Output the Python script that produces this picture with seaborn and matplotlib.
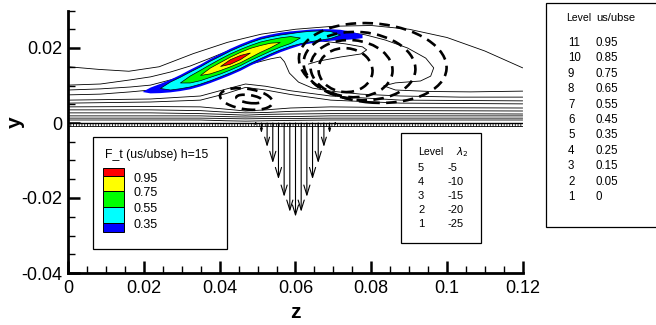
import numpy as np
import matplotlib
matplotlib.use("Agg")
import matplotlib.pyplot as plt
import seaborn as sns
from matplotlib.patches import Ellipse, Rectangle, Polygon
from matplotlib.ticker import MultipleLocator, FuncFormatter

# ---------------- data ----------------
# outer streamline passing over everything
top_z = [0, 0.008, 0.016, 0.024, 0.033, 0.042, 0.051, 0.060, 0.070, 0.080, 0.090, 0.100, 0.110, 0.120]
top_y = [0.0150, 0.0143, 0.0138, 0.0150, 0.0185, 0.0215, 0.0237, 0.0250, 0.0258, 0.0260, 0.0250, 0.0228, 0.0192, 0.0147]

# streamline looping round the big vortex
loop_z = [0, 0.0085, 0.0164, 0.0217, 0.0270, 0.0322, 0.0375, 0.0428, 0.0481, 0.0534, 0.0587, 0.0640,
          0.0693, 0.0732, 0.0785, 0.0838, 0.0896, 0.0944, 0.0965, 0.0957, 0.0930, 0.0864, 0.0833,
          0.0864, 0.0957, 0.1063, 0.12]
loop_y = [0.0101, 0.0104, 0.0115, 0.0123, 0.0136, 0.0152, 0.0173, 0.0195, 0.0213, 0.0229, 0.0240, 0.0245,
          0.0245, 0.0243, 0.0235, 0.0221, 0.0200, 0.0173, 0.0147, 0.0125, 0.0112, 0.0107, 0.0099,
          0.0088, 0.0084, 0.0083, 0.0085]

# streamline spiralling into the vortex core
spiral_z = [0, 0.0085, 0.0164, 0.0217, 0.0270, 0.0322, 0.0375, 0.0428, 0.0481, 0.0534, 0.0587, 0.0666,
            0.0732, 0.0777, 0.0788, 0.0772, 0.0719, 0.0661, 0.0634]
spiral_y = [0.0088, 0.0091, 0.0096, 0.0101, 0.0115, 0.0131, 0.0152, 0.0173, 0.0195, 0.0211, 0.0221, 0.0219,
            0.0211, 0.0203, 0.0195, 0.0184, 0.0176, 0.0165, 0.0157]

# separatrix along the lower side of the band
sep_z = [0, 0.0085, 0.0164, 0.0217, 0.0270, 0.0322, 0.0375, 0.0428, 0.0481, 0.0534, 0.0560, 0.0571,
         0.0584, 0.0608, 0.0645, 0.0693, 0.0772, 0.0878, 0.1036, 0.12]
sep_y = [0.0075, 0.0077, 0.0083, 0.0088, 0.0096, 0.0109, 0.0125, 0.0141, 0.0157, 0.0171, 0.0176, 0.0163,
         0.0133, 0.0109, 0.0093, 0.0085, 0.0077, 0.0072, 0.0069, 0.0069]

# near-wall streamlines
low_z = [0, 0.0217, 0.0349, 0.0415, 0.0468, 0.0521, 0.0587, 0.0693, 0.0878, 0.12]
low_y = [
    [0.0061, 0.0064, 0.0072, 0.0090, 0.0104, 0.0098, 0.0086, 0.0072, 0.0061, 0.0059],
    [0.0053, 0.0056, 0.0061, 0.0078, 0.0095, 0.0088, 0.0076, 0.0061, 0.0053, 0.0051],
    [0.0043, 0.0044, 0.0043, 0.0037, 0.0032, 0.0035, 0.0040, 0.0043, 0.0041, 0.0040],
    [0.0035, 0.0035, 0.0033, 0.0029, 0.0027, 0.0028, 0.0031, 0.0033, 0.0033, 0.0032],
    [0.0027, 0.0027, 0.0025, 0.0023, 0.0021, 0.0023, 0.0024, 0.0025, 0.0025, 0.0024],
    [0.0019, 0.0019, 0.0019, 0.0017, 0.0016, 0.0017, 0.0017, 0.0019, 0.0019, 0.0019],
    [0.0013, 0.0013, 0.0013, 0.0012, 0.0011, 0.0012, 0.0012, 0.0013, 0.0013, 0.0013],
    [0.0008, 0.0008, 0.0008, 0.0006, 0.0005, 0.0006, 0.0007, 0.0008, 0.0008, 0.0008],
]

# F_t (us/ubse) band: centre line and half thickness of each level
band_z = [0.0196, 0.0217, 0.0243, 0.0270, 0.0296, 0.0322, 0.0349, 0.0375, 0.0402, 0.0428, 0.0455, 0.0481,
          0.0507, 0.0534, 0.0560, 0.0587, 0.0613, 0.0640, 0.0666, 0.0693, 0.0719, 0.0745, 0.0777]
band_yc = [0.00827, 0.00867, 0.00920, 0.00987, 0.01067, 0.01160, 0.01267, 0.01387, 0.01507, 0.01627,
           0.01747, 0.01867, 0.01973, 0.02067, 0.02147, 0.02213, 0.02267, 0.02307, 0.02333, 0.02347,
           0.02347, 0.02333, 0.02307]
hw_blue = [0, 0.00077, 0.00123, 0.00169, 0.00215, 0.00261, 0.00291, 0.00322, 0.00337, 0.00353, 0.00353,
           0.00337, 0.00322, 0.00291, 0.00261, 0.0023, 0.00199, 0.00184, 0.00169, 0.00153, 0.00138,
           0.00107, 0.00046]
hw_cyan = [0, 0.00107, 0.00153, 0.00199, 0.0023, 0.00261, 0.00276, 0.00291, 0.00291, 0.00276, 0.00261,
           0.0023, 0.00199, 0.00169, 0.00153, 0.00138, 0.00123, 0.00092, 0]
hw_green = [0, 0.00092, 0.00138, 0.00169, 0.00199, 0.00215, 0.00215, 0.00199, 0.00184, 0.00153, 0.00123,
            0.00092, 0]
hw_yellow = [0, 0.00077, 0.00107, 0.00129, 0.00138, 0.00123, 0.00092, 0.00061, 0]
hw_red = [0, 0.00061, 0.00055, 0]
band_start = [0, 2, 4, 6, 8]
ft_colors = ["#0000ff", "#00ffff", "#00ff00", "#ffff00", "#ff0000"]
ft_labels = ["0.95", "0.75", "0.55", "0.35"]

# lambda_2 iso-lines (ellipse fits): big vortex and small secondary vortex
lam_z = [0.0804, 0.0769, 0.0748, 0.0732, 0.0470, 0.0478]
lam_y = [0.0160, 0.0152, 0.0145, 0.0141, 0.0064, 0.0064]
lam_w = [0.0391, 0.0296, 0.0217, 0.0143, 0.0140, 0.0069]
lam_h = [0.0211, 0.0181, 0.0152, 0.0117, 0.0055, 0.0021]
lam_ang = [-5, -5, -5, -5, -8, -8]
lam_levels = ["5", "4", "3", "2", "1"]
lam_values = ["-5", "-10", "-15", "-20", "-25"]

# wall suction vectors
jet_z = [0.0495, 0.0510, 0.0525, 0.0540, 0.0555, 0.0570, 0.0585, 0.0600, 0.0615, 0.0630, 0.0645,
         0.0660, 0.0675, 0.0690, 0.0705]
jet_len = [0.0007, 0.0027, 0.0064, 0.0107, 0.0150, 0.0197, 0.0237, 0.0250, 0.0237, 0.0197, 0.0150,
           0.0107, 0.0064, 0.0027, 0.0007]

# us/ubse contour level table
us_levels = ["11", "10", "9", "8", "7", "6", "5", "4", "3", "2", "1"]
us_values = ["0.95", "0.85", "0.75", "0.65", "0.55", "0.45", "0.35", "0.25", "0.15", "0.05", "0"]

x_ticks = [0, 0.02, 0.04, 0.06, 0.08, 0.10, 0.12]
y_ticks = [-0.04, -0.02, 0, 0.02]

# ---------------- drawing ----------------
sns.set_theme(style="white")
plt.rcParams["font.family"] = ["Liberation Sans", "DejaVu Sans"]
plt.rcParams["hatch.linewidth"] = 0.6

W, H = 656, 325
fig = plt.figure(figsize=(W / 100, H / 100), dpi=100)
ax = fig.add_axes([68.3 / W, 1 - 273 / H, 454.4 / W, 262.5 / H])
ax.set_facecolor("white")

# streamlines
lines = [(top_z, top_y), (loop_z, loop_y), (spiral_z, spiral_y), (sep_z, sep_y)]
lines += [(low_z, yy) for yy in low_y]
for zz, yy in lines:
    sns.lineplot(x=zz, y=yy, sort=False, estimator=None, ax=ax, color="black",
                 linewidth=0.6, zorder=2)

# F_t band
hws = [hw_blue, hw_cyan, hw_green, hw_yellow, hw_red]
bz = np.array(band_z)
byc = np.array(band_yc)
for k, (hw, s, col) in enumerate(zip(hws, band_start, ft_colors)):
    hw = np.array(hw)
    z = bz[s:s + len(hw)]
    c = byc[s:s + len(hw)]
    pts = np.vstack([np.column_stack([z, c + hw]), np.column_stack([z[::-1], (c - hw)[::-1]])])
    ax.add_patch(Polygon(pts, closed=True, facecolor=col,
                         edgecolor=("none" if k == 0 else "black"),
                         linewidth=0.5, zorder=3))

# lambda_2 dashed contours
for zc, yc, w, h, a in zip(lam_z, lam_y, lam_w, lam_h, lam_ang):
    ax.add_patch(Ellipse((zc, yc), w, h, angle=a, fill=False, edgecolor="black",
                         linewidth=1.9, linestyle=(0, (4, 2.4)), zorder=4))

# wall
ax.axhspan(-0.0009, 0, xmin=0, xmax=1, facecolor="white", edgecolor="black",
           hatch="||||||", linewidth=0.6, zorder=3)
ax.axhline(0, color="black", linewidth=1.0, zorder=4)

# suction vectors
for zc, L in zip(jet_z, jet_len):
    ms = 11 * min(1.0, L / 0.008)
    ax.annotate("", xy=(zc, -L), xytext=(zc, 0),
                arrowprops=dict(arrowstyle="->,head_length=0.65,head_width=0.2",
                                color="black", lw=0.8, shrinkA=0, shrinkB=0,
                                mutation_scale=max(ms, 1)), zorder=5)

# axes cosmetics
ax.set_xlim(0, 0.12)
ax.set_ylim(-0.04, 0.03)
for side in ["top", "right"]:
    ax.spines[side].set_visible(False)
for side in ["left", "bottom"]:
    ax.spines[side].set_linewidth(2.0)
    ax.spines[side].set_color("black")
    ax.spines[side].set_zorder(6)
ax.set_xticks(x_ticks)
ax.set_yticks(y_ticks)
ax.xaxis.set_minor_locator(MultipleLocator(0.005))
ax.yaxis.set_minor_locator(MultipleLocator(0.005))
fmt = FuncFormatter(lambda v, p: "0" if abs(v) < 1e-9 else ("%g" % round(v, 6)))
ax.xaxis.set_major_formatter(fmt)
ax.yaxis.set_major_formatter(fmt)
ax.tick_params(which="major", direction="in", length=8.5, width=1.8, labelsize=13,
               colors="black", bottom=True, left=True)
ax.tick_params(which="minor", direction="in", length=5, width=1.0, bottom=True, left=True,
               colors="black")
ax.tick_params(axis="x", which="major", pad=5)
ax.tick_params(axis="y", which="major", pad=4)
ax.set_xlabel("z", fontsize=15, fontweight="bold", color="black")
ax.set_ylabel("y", fontsize=15, fontweight="bold", color="black")
ax.xaxis.set_label_coords(0.5, -0.115)
ax.yaxis.set_label_coords(-0.095, 0.573)
ax.grid(False)


def fx(px):
    return px / W


def fy(py):
    return 1 - py / H


def box(x0, y0, x1, y1, lw=0.9):
    fig.add_artist(Rectangle((fx(x0), fy(y1)), fx(x1) - fx(x0), fy(y0) - fy(y1),
                             transform=fig.transFigure, facecolor="white", edgecolor="black",
                             linewidth=lw, zorder=10))


def ftext(px, py, s, size, **kw):
    fig.text(fx(px), fy(py), s, fontsize=size, ha="left", va="center", color="black",
             zorder=11, **kw)


# F_t legend
box(93, 137, 227, 249)
ftext(105, 155, "F_t (us/ubse) h=15", 8.8)
patch_edges = [168, 176, 191, 207, 223, 232]
for i, col in enumerate(ft_colors[::-1]):
    y0, y1 = patch_edges[i], patch_edges[i + 1]
    fig.add_artist(Rectangle((fx(103), fy(y1)), fx(124) - fx(103), fy(y0) - fy(y1),
                             transform=fig.transFigure, facecolor=col, edgecolor="black",
                             linewidth=0.7, zorder=11))
for lab, py in zip(ft_labels, patch_edges[1:5]):
    ftext(134, py + 2.5, lab, 9)

# lambda_2 legend
box(401, 133, 481, 243)
ftext(418, 152, "Level", 7.6)
ftext(456, 152, r"$\lambda_2$", 7.6)
for i, (lv, vv) in enumerate(zip(lam_levels, lam_values)):
    py = 168 + i * 14
    ftext(418, py, lv, 8)
    ftext(447, py, vv, 8)

# us/ubse level table (outside axes, clipped at the right edge)
box(546, 3, 700, 227)
ftext(566, 18, "Level", 7.5)
ftext(596, 18, "us/ubse", 8)
for i, (lv, vv) in enumerate(zip(us_levels, us_values)):
    py = 43 + i * 15.4
    ftext(568, py, lv, 8.3)
    ftext(595, py, vv, 8.3)

fig.savefig("out.png", dpi=100)
